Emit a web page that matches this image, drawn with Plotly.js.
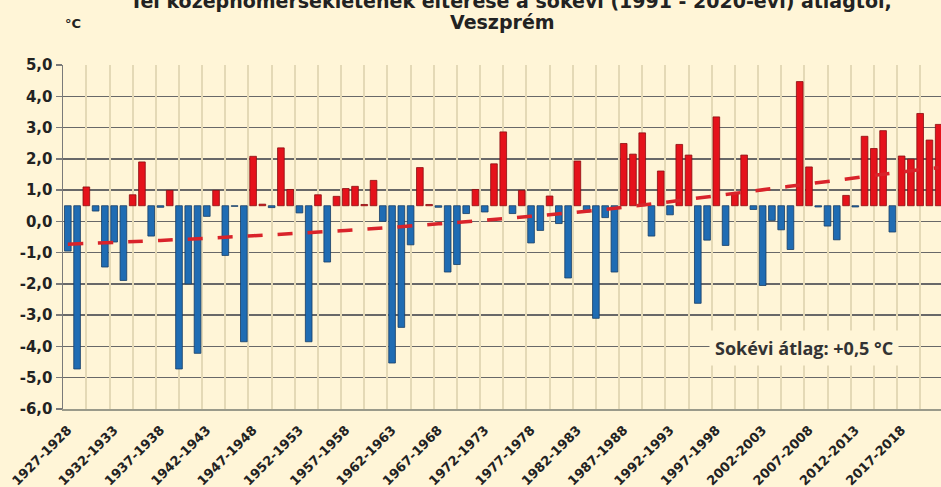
<!DOCTYPE html>
<html>
<head>
<meta charset="utf-8">
<script src="https://cdn.plot.ly/plotly-3.0.1.min.js"></script>
<style>
  html, body { margin: 0; padding: 0; background: #fff5d7; }
  #chart { width: 941px; height: 487px; }
</style>
</head>
<body>
<div id="chart"></div>
<script>
// Winter seasons (categories)
const seasons = [
  "1927-1928","1928-1929","1929-1930","1930-1931","1931-1932","1932-1933","1933-1934","1934-1935","1935-1936","1936-1937",
  "1937-1938","1938-1939","1939-1940","1940-1941","1941-1942","1942-1943","1943-1944","1944-1945","1945-1946","1946-1947",
  "1947-1948","1948-1949","1949-1950","1950-1951","1951-1952","1952-1953","1953-1954","1954-1955","1955-1956","1956-1957",
  "1957-1958","1958-1959","1959-1960","1960-1961","1961-1962","1962-1963","1963-1964","1964-1965","1965-1966","1966-1967",
  "1967-1968","1968-1969","1969-1970","1970-1971","1971-1972","1972-1973","1973-1974","1974-1975","1975-1976","1976-1977",
  "1977-1978","1978-1979","1979-1980","1980-1981","1981-1982","1982-1983","1983-1984","1984-1985","1985-1986","1986-1987",
  "1987-1988","1988-1989","1989-1990","1990-1991","1991-1992","1992-1993","1993-1994","1994-1995","1995-1996","1996-1997",
  "1997-1998","1998-1999","1999-2000","2000-2001","2001-2002","2002-2003","2003-2004","2004-2005","2005-2006","2006-2007",
  "2007-2008","2008-2009","2009-2010","2010-2011","2011-2012","2012-2013","2013-2014","2014-2015","2015-2016","2016-2017",
  "2017-2018","2018-2019","2019-2020","2020-2021","2021-2022"
];

// Temperature deviation (°C)
const deviation = [
  -0.95, -4.72, 1.10, 0.33, -1.46, -0.66, -1.89, 0.85, 1.90, -0.47,
   0.45,  0.99, -4.72, -2.00, -4.22, 0.16, 0.99, -1.09, 0.48, -3.85,
   2.08,  0.55, 0.44, 2.35, 1.02, 0.27, -3.85, 0.85, -1.30, 0.80,
   1.05,  1.12, 0.54, 1.31, 0.00, -4.53, -3.39, -0.75, 1.72, 0.54,
   0.45, -1.62, -1.38, 0.25, 1.02, 0.30, 1.84, 2.86, 0.25, 0.99,
  -0.69, -0.29, 0.81, -0.07, -1.81, 1.93, 0.30, -3.10, 0.12, -1.62,
   2.49,  2.15, 2.83, -0.47, 1.61, 0.21, 2.46, 2.12, -2.62, -0.60,
   3.34, -0.77, 0.88, 2.12, 0.38, -2.05, 0.03, -0.27, -0.90, 4.47,
   1.74,  0.46, -0.15, -0.59, 0.83, 0.46, 2.72, 2.33, 2.90, -0.34,
   2.09,  1.99, 3.45, 2.60, 3.10
];

// Long-term mean (baseline of the bars)
const longTermMean = 0.5;

// Trend line (season index, °C)
const trendIndex = [0, 10, 20, 30, 40, 50, 60, 70, 80, 90, 94];
const trendValue = [-0.73, -0.61, -0.46, -0.29, -0.08, 0.16, 0.45, 0.82, 1.20, 1.58, 1.72];

// Axis labels
const xTickLabels = ["1927-1928","1932-1933","1937-1938","1942-1943","1947-1948","1952-1953","1957-1958",
  "1962-1963","1967-1968","1972-1973","1977-1978","1982-1983","1987-1988","1992-1993","1997-1998",
  "2002-2003","2007-2008","2012-2013","2017-2018"];
const yTickVals = [5, 4, 3, 2, 1, 0, -1, -2, -3, -4, -5, -6];
const yTickText = ["5,0","4,0","3,0","2,0","1,0","0,0","-1,0","-2,0","-3,0","-4,0","-5,0","-6,0"];

const titleLine1 = "Tél középhőmérsékletének eltérése a sokévi (1991 - 2020-évi) átlagtól,";
const titleLine2 = "Veszprém";
const unitLabel = "°C";
const meanLabel = "Sokévi átlag: +0,5 °C";

const BG = "#fff5d7";
const RED = "#e5121b";
const BLUE = "#1f6cb3";

const above = deviation.map(v => v > longTermMean);

const bars = {
  type: "bar",
  x: seasons,
  y: deviation.map(v => v - longTermMean),
  base: longTermMean,
  width: 0.72,
  marker: {
    color: above.map(a => a ? RED : BLUE),
    line: { color: above.map(a => a ? "#8a0d10" : "#173d66"), width: 0.8 }
  },
  hoverinfo: "skip",
  showlegend: false
};

const trend = {
  type: "scatter",
  mode: "lines",
  x: trendIndex,
  y: trendValue,
  xaxis: "x2",
  yaxis: "y",
  line: { color: "#d9232a", width: 3.5, dash: "15px,15px", shape: "spline" },
  hoverinfo: "skip",
  showlegend: false
};

const xr = [-0.52, 94.25];

const layout = {
  width: 941,
  height: 487,
  margin: { l: 63, r: 0, t: 65, b: 78 },
  paper_bgcolor: BG,
  plot_bgcolor: BG,
  font: { family: "DejaVu Sans", color: "#222" },
  xaxis: {
    type: "category",
    range: xr,
    tickvals: xTickLabels,
    ticktext: xTickLabels,
    tickangle: -45,
    ticklabelstandoff: 7,
    tickfont: { family: "DejaVu Sans", size: 13, color: "#222", weight: "bold" },
    showgrid: false,
    zeroline: false,
    showline: true,
    linecolor: "#9a9a8a",
    linewidth: 1.5,
    ticks: "",
  },
  xaxis2: {
    overlaying: "x",
    type: "linear",
    range: xr,
    tick0: -0.5,
    dtick: 2.5,
    showgrid: true,
    gridcolor: "#e4d9b6",
    gridwidth: 2,
    showticklabels: false,
    ticks: "",
    zeroline: false,
    showline: false
  },
  yaxis: {
    range: [-6, 5],
    tickvals: yTickVals,
    ticktext: yTickText,
    tickfont: { family: "DejaVu Sans", size: 15, color: "#222", weight: "bold" },
    showgrid: true,
    gridcolor: "#686868",
    gridwidth: 1.5,
    zeroline: false,
    showline: true,
    linecolor: "#7a7a7a",
    linewidth: 1.5,
    ticks: "outside",
    ticklen: 6,
    tickcolor: "#7a7a7a",
    tickwidth: 1.5
  },
  annotations: [
    { text: titleLine1, xref: "paper", yref: "paper", x: 0.51, y: 1.185, xanchor: "center", yanchor: "middle",
      showarrow: false, font: { family: "DejaVu Sans", size: 19, color: "#222", weight: "bold" } },
    { text: titleLine2, xref: "paper", yref: "paper", x: 0.5, y: 1.125, xanchor: "center", yanchor: "middle",
      showarrow: false, font: { family: "DejaVu Sans", size: 19, color: "#222", weight: "bold" } },
    { text: unitLabel, xref: "paper", yref: "paper", x: 0.0, y: 1.122, xanchor: "left", yanchor: "middle",
      showarrow: false, font: { family: "DejaVu Sans", size: 13, color: "#222", weight: "bold" } },
    { text: meanLabel, xref: "x2", yref: "y", x: 79.5, y: -4.05, xanchor: "center", yanchor: "middle",
      showarrow: false, bgcolor: BG, borderpad: 5,
      font: { family: "Open Sans", size: 18, color: "#333", weight: "bold" } }
  ]
};

Plotly.newPlot("chart", [bars, trend], layout, { staticPlot: true, displayModeBar: false });
</script>
</body>
</html>
